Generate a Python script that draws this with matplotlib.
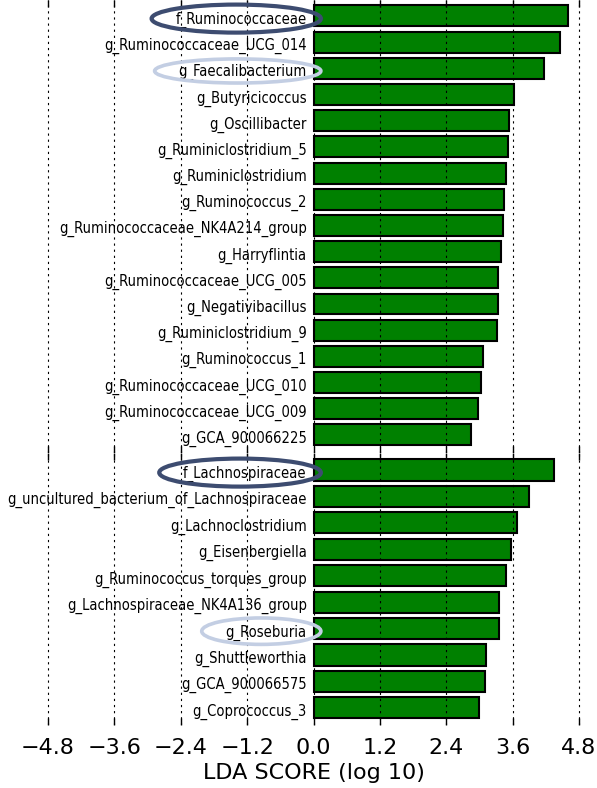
"""LEfSe LDA skor grafigi: Ruminococcaceae ve Lachnospiraceae kollari."""

import matplotlib

matplotlib.use("Agg")
import matplotlib.pyplot as plt
import numpy as np
from matplotlib.patches import Ellipse

# ust grup (yukaridan asagiya)
ruminococcaceae_taxa = [
    "f_Ruminococcaceae",
    "g_Ruminococcaceae_UCG_014",
    "g_Faecalibacterium",
    "g_Butyricicoccus",
    "g_Oscillibacter",
    "g_Ruminiclostridium_5",
    "g_Ruminiclostridium",
    "g_Ruminococcus_2",
    "g_Ruminococcaceae_NK4A214_group",
    "g_Harryflintia",
    "g_Ruminococcaceae_UCG_005",
    "g_Negativibacillus",
    "g_Ruminiclostridium_9",
    "g_Ruminococcus_1",
    "g_Ruminococcaceae_UCG_010",
    "g_Ruminococcaceae_UCG_009",
    "g_GCA_900066225",
]
ruminococcaceae_lda = [4.61, 4.46, 4.16, 3.62, 3.54, 3.51, 3.49, 3.44, 3.42,
                       3.39, 3.34, 3.34, 3.32, 3.07, 3.03, 2.98, 2.85]

# alt grup
lachnospiraceae_taxa = [
    "f_Lachnospiraceae",
    "g_uncultured_bacterium_of_Lachnospiraceae",
    "g_Lachnoclostridium",
    "g_Eisenbergiella",
    "g_Ruminococcus_torques_group",
    "g_Lachnospiraceae_NK4A136_group",
    "g_Roseburia",
    "g_Shuttleworthia",
    "g_GCA_900066575",
    "g_Coprococcus_3",
]
lachnospiraceae_lda = [4.35, 3.90, 3.68, 3.57, 3.48, 3.36, 3.36, 3.12, 3.10, 3.00]

xticks = np.arange(-4.8, 4.81, 1.2)

# isaretlenen etiketler: renk, cizgi kalinligi, yukseklik (satir birimi)
DARK, LIGHT = "#3d4c70", "#c3cee3"
highlights = {
    "f_Ruminococcaceae": (DARK, 3.0, 1.07),
    "g_Faecalibacterium": (LIGHT, 2.6, 0.92),
    "f_Lachnospiraceae": (DARK, 3.0, 1.06),
    "g_Roseburia": (LIGHT, 2.6, 1.0),
}

W, H = 597, 788
fig = plt.figure(figsize=(W / 100, H / 100), dpi=100)

px_per_unit = 55.3
x0_px = 313.5
xmin = -x0_px / px_per_unit
xmax = -xmin
ax_w = (xmax - xmin) * px_per_unit / W

ax_top = fig.add_axes([0, (H - 452.5) / H, ax_w, 452.5 / H])
ax_bot = fig.add_axes([0, (H - 725) / H, ax_w, 272.5 / H])
renderer = fig.canvas.get_renderer()


def draw(ax, names, vals, ylim):
    n = len(names)
    y = np.arange(n)[::-1]
    ax.barh(y, vals, height=0.8, color="#008000", edgecolor="black", linewidth=1.5)
    ax.set_xlim(xmin, xmax)
    ax.set_ylim(*ylim)
    for yi, name in zip(y, names):
        t = ax.text(-0.12, yi - 0.15, name, ha="right", va="center", fontsize=10.5,
                    family="DejaVu Sans", fontstretch="condensed")
        if name in highlights:
            col, lw, eh = highlights[name]
            bb = t.get_window_extent(renderer)
            # metin kutusu + kenar payi (piksel), veri birimine
            left = (bb.x0 - 24) / px_per_unit + xmin
            right = (bb.x1 + 14) / px_per_unit + xmin
            ax.add_patch(Ellipse(((left + right) / 2, yi - 0.1), right - left, eh,
                                 fill=False, edgecolor=col, linewidth=lw,
                                 clip_on=False, zorder=5))
    ax.set_xticks(xticks)
    ax.set_yticks([])
    for s in ax.spines.values():
        s.set_visible(False)
    ax.set_axisbelow(False)
    ax.xaxis.grid(True, linestyle=(0, (2, 3.5)), color="black", linewidth=0.8)
    ax.tick_params(axis="x", direction="in", length=5, width=1, top=True,
                   labelsize=16, pad=9)


draw(ax_top, ruminococcaceae_taxa, ruminococcaceae_lda, (-0.67, 16.61))
draw(ax_bot, lachnospiraceae_taxa, lachnospiraceae_lda, (-0.65, 9.66))
ax_top.tick_params(labelbottom=False)
ax_bot.set_xlabel("LDA SCORE (log 10)", fontsize=16, labelpad=4)

fig.savefig("out.png", dpi=100)
